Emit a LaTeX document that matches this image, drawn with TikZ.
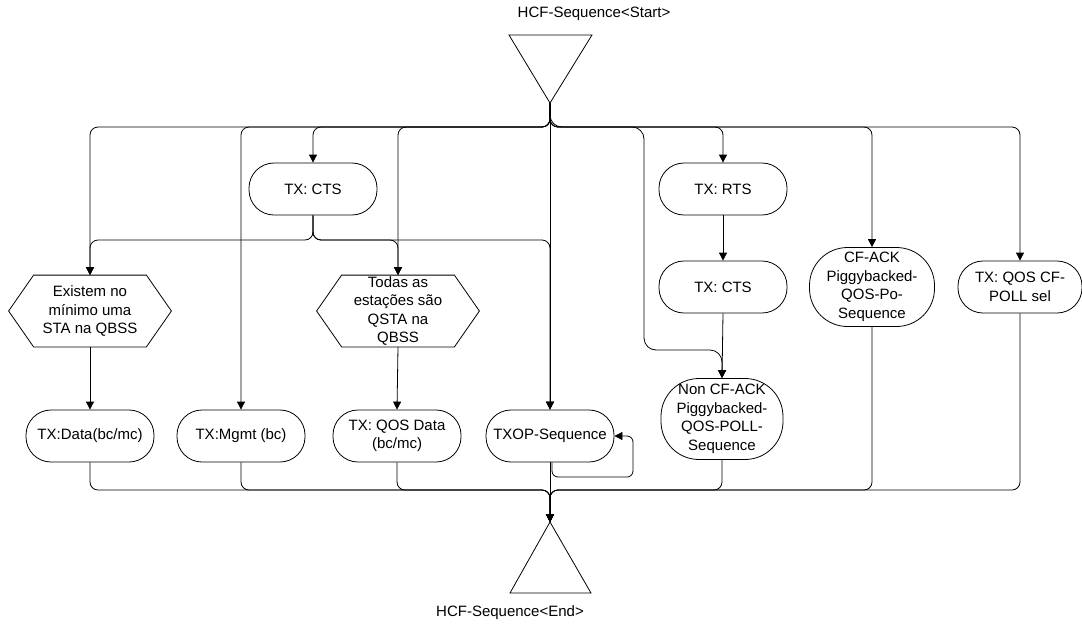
\documentclass[tikz,border=0pt]{standalone}
\usepackage{fontspec}
\setmainfont{Liberation Sans}
\usetikzlibrary{arrows.meta}

% six-sided frame round a decision node
\newcommand{\hexframe}[1]{%
    \draw (#1.west) -- ([xshift=25pt]#1.north west) -- ([xshift=-25pt]#1.north east)
        -- (#1.east) -- ([xshift=-25pt]#1.south east) -- ([xshift=25pt]#1.south west) -- cycle;}

\begin{document}
\begin{tikzpicture}[x=1pt, y=-1pt, line width=0.8pt,
    every node/.style={font=\fontsize{15}{18.5}\selectfont, align=center, inner sep=1pt},
    term/.style={draw, rounded corners=25pt, minimum width=128pt, minimum height=52pt},
    tallterm/.style={draw, rounded corners=38pt, minimum width=125pt, minimum height=79pt},
    hexa/.style={inner sep=0pt, minimum width=162pt, minimum height=71pt},
    arr/.style={-{Triangle[length=8pt,width=8pt]}},
    bus/.style={rounded corners=8pt}]

    \useasboundingbox (0,0) rectangle (1082,625);

    % start and end
    \coordinate (startapex) at (550,103);
    \draw (509,35) -- (592,35) -- (startapex) -- cycle;
    \node (startlbl) at (594,14) {HCF-Sequence<Start>};
    \coordinate (endapex) at (550,522);
    \draw (endapex) -- (591,593) -- (510,593) -- cycle;
    \node (endlbl) at (510,613) {HCF-Sequence<End>};

    \node[term] (ctsA) at (313,189) {TX: CTS};
    \node[term] (rts) at (723,189) {TX: RTS};
    \node[term] (ctsB) at (723,287) {TX: CTS};
    \node[tallterm] (cfack) at (872,287) {CF-ACK\\Piggybacked-\\QOS-Po-\\Sequence};
    \node[term, minimum width=124pt] (qospoll) at (1020,287) {TX: QOS CF-\\POLL sel};

    \node[hexa] (exist) at (90,311) {Existem no\\mínimo uma\\STA na QBSS};
    \node[hexa] (todas) at (398,311) {Todas as\\estações são\\QSTA na\\QBSS};
    \hexframe{exist}
    \hexframe{todas}
    \node[tallterm, minimum width=122pt, minimum height=81pt] (noncf) at (722,419)
        {Non CF-ACK\\Piggybacked-\\QOS-POLL-\\Sequence};

    \node[term] (data) at (90,436) {TX:Data(bc/mc)};
    \node[term] (mgmt) at (241,436) {TX:Mgmt (bc)};
    \node[term] (qosdata) at (397,436) {TX: QOS Data\\(bc/mc)};
    \node[term] (txop) at (550,436) {TXOP-Sequence};

    % fan out from start
    \coordinate (topfork) at (550,127);
    \foreach \n in {exist, mgmt, ctsA, todas, rts, cfack, qospoll}
        \draw[arr, bus] (startapex) -- (topfork) -| (\n.north);
    \draw[arr] (startapex) -- (txop.north);
    \draw[arr, rounded corners=12pt] (startapex) -- (topfork) -| (644,350) -| (noncf.north);

    % after CTS
    \coordinate (ctsfork) at (313,240);
    \foreach \n in {exist, todas, txop}
        \draw[arr, bus] (ctsA.south) -- (ctsfork) -| (\n.north);

    \draw[arr] (exist.south) -- (data.north);
    \draw[arr] (todas.south) -- (qosdata.north);
    \draw[arr] (rts.south) -- (ctsB.north);
    \draw[arr] (ctsB.south) -- (noncf.north);

    % TXOP repeats
    \coordinate (loop) at (633,477);
    \draw[arr, rounded corners=6pt] ([xshift=2pt]txop.south) |- (loop) |- (txop.east);

    % join to end
    \coordinate (botfork) at (550,490);
    \foreach \n in {data, mgmt, qosdata, noncf, cfack, qospoll}
        \draw[arr, bus] (\n.south) |- (botfork) -- (endapex);
    \draw[arr] (txop.south) -- (endapex);
\end{tikzpicture}
\end{document}
